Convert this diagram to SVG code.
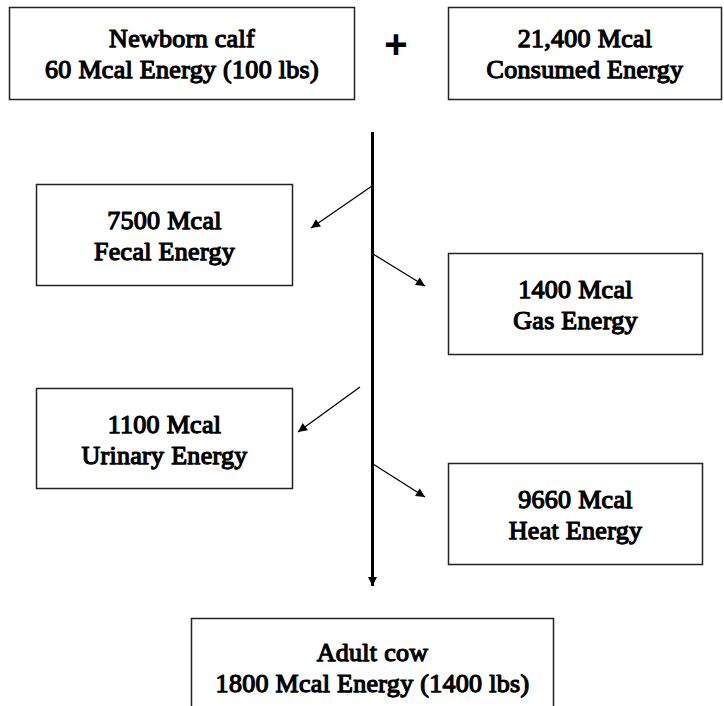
<svg xmlns="http://www.w3.org/2000/svg" width="724" height="706" viewBox="0 0 724 706">
<defs>
<style>
.box{fill:#fff;stroke:#222;stroke-width:1.5}
.t{font-family:'Liberation Serif','Times New Roman',serif;font-weight:400;font-size:26px;letter-spacing:0.3px;fill:#000;stroke:#000;stroke-width:1.25;stroke-linejoin:round;text-anchor:middle}
.arr{stroke:#000;stroke-width:1.3;fill:none;marker-end:url(#ah)}
.main{stroke:#000;stroke-width:3;fill:none;marker-end:url(#ahm)}
</style>
<marker id="ah" viewBox="0 0 10 10" refX="10" refY="5" markerWidth="13" markerHeight="9" markerUnits="userSpaceOnUse" orient="auto">
<path d="M0,0 L10,5 L0,10 z" fill="#000"/>
</marker>
<marker id="ahm" viewBox="0 0 10 10" refX="10" refY="5" markerWidth="12" markerHeight="9" markerUnits="userSpaceOnUse" orient="auto">
<path d="M0,0 L10,5 L0,10 z" fill="#000"/>
</marker>
</defs>
<rect width="724" height="706" fill="#fff"/>
<g id="connectors">
<line class="main" x1="372.5" y1="132" x2="372.5" y2="586"/>
<line class="arr" x1="372" y1="186" x2="311" y2="228"/>
<line class="arr" x1="373" y1="254" x2="425" y2="286"/>
<line class="arr" x1="360" y1="387" x2="298" y2="432"/>
<line class="arr" x1="373" y1="464" x2="425" y2="497"/>
</g>
<g id="newborn">
<rect class="box" x="9.5" y="7.5" width="345" height="92"/>
<text class="t" x="182" y="47">Newborn calf</text>
<text class="t" x="182" y="78">60 Mcal Energy (100 lbs)</text>
</g>
<g id="plus">
<text x="396" y="58" font-family="Liberation Sans, Arial, sans-serif" font-weight="bold" font-size="40" text-anchor="middle">+</text>
</g>
<g id="consumed">
<rect class="box" x="448.5" y="7.5" width="273" height="92"/>
<text class="t" x="585" y="47">21,400 Mcal</text>
<text class="t" x="585" y="78">Consumed Energy</text>
</g>
<g id="fecal">
<rect class="box" x="36.5" y="184.5" width="256" height="101"/>
<text class="t" x="164.5" y="229">7500 Mcal</text>
<text class="t" x="164.5" y="260">Fecal Energy</text>
</g>
<g id="gas">
<rect class="box" x="448.5" y="253.5" width="254" height="101"/>
<text class="t" x="575.5" y="298">1400 Mcal</text>
<text class="t" x="575.5" y="329">Gas Energy</text>
</g>
<g id="urinary">
<rect class="box" x="36.5" y="388.5" width="256" height="100"/>
<text class="t" x="164.5" y="433">1100 Mcal</text>
<text class="t" x="164.5" y="464">Urinary Energy</text>
</g>
<g id="heat">
<rect class="box" x="448.5" y="463.5" width="254" height="101"/>
<text class="t" x="575.5" y="508">9660 Mcal</text>
<text class="t" x="575.5" y="539">Heat Energy</text>
</g>
<g id="adult">
<rect class="box" x="191.5" y="618.5" width="362" height="100"/>
<text class="t" x="372.5" y="661">Adult cow</text>
<text class="t" x="372.5" y="692">1800 Mcal Energy (1400 lbs)</text>
</g>
</svg>
